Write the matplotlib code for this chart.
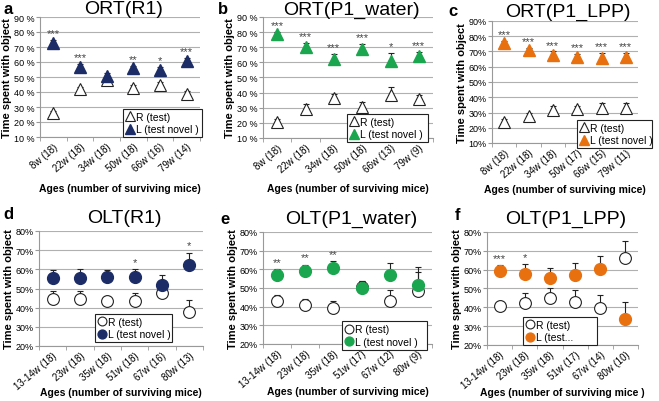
"""
ORT / OLT object-preference panels (a-f)
"""

import numpy as np
import matplotlib.pyplot as plt

plt.rcParams['font.family'] = ['Liberation Sans', 'DejaVu Sans']

W, H = 659, 402

#%% data (in %)

ort_r1_ages = ['8w (18)', '22w (18)', '34w (18)', '50w (18)', '66w (16)', '79w (14)']
ort_r1_R = [26, 42, 48, 43, 45, 39]
ort_r1_R_err = [1.5, 1.5, 1.5, 1.5, 1.5, 1.5]
ort_r1_L = [73, 57, 51, 56, 55, 61]
ort_r1_L_err = [1.5, 1.5, 1.5, 1.5, 1.5, 1.5]
ort_r1_stars = ['***', '***', '', '**', '*', '***']

ort_w_ages = ['8w (18)', '22w (18)', '34w (18)', '50w (18)', '66w (13)', '79w (9)']
ort_w_R = [20.5, 29.5, 36.5, 30.5, 38.5, 35.5]
ort_w_R_err = [2, 3, 2.5, 3, 5, 3]
ort_w_L = [78.5, 70, 62.5, 69, 61, 64]
ort_w_L_err = [1.5, 3, 3, 3, 5, 3]
ort_w_stars = ['***', '***', '***', '***', '*', '***']

ort_lpp_ages = ['8w (18)', '22w (18)', '34w (18)', '50w (17)', '66w (15)', '79w (11)']
ort_lpp_R = [24, 28, 31.5, 32, 33, 33]
ort_lpp_R_err = [1.5, 1.5, 2.5, 2.5, 3.5, 3]
ort_lpp_L = [75.5, 71, 67.5, 66.5, 66, 66.5]
ort_lpp_L_err = [1.5, 1.5, 2.5, 2, 3, 2.5]
ort_lpp_stars = ['***', '***', '***', '***', '***', '***']

olt_r1_ages = ['13-14w (18)', '23w (18)', '35w (18)', '51w (18)', '67w (16)', '80w (13)']
olt_r1_R = [44.7, 44.5, 43.7, 43.5, 47.8, 37.8]
olt_r1_R_err = [4, 4, 2.5, 4, 2, 6]
olt_r1_L = [55.3, 55.5, 56.2, 56, 52, 62.2]
olt_r1_L_err = [4.5, 4.5, 3.5, 4, 5, 6.5]
olt_r1_stars = ['', '', '', '*', '', '*']

olt_w_ages = ['13-14w (18)', '23w (18)', '35w (18)', '51w (17)', '67w (12)', '80w (9)']
olt_w_R = [43, 41, 39.5, 50.3, 42.8, 48.5]
olt_w_R_err = [3, 3, 3.5, 3.5, 6, 10]
olt_w_L = [57.2, 59, 60.7, 49.8, 57.2, 51.5]
olt_w_L_err = [3, 3.5, 3.5, 4, 6, 10]
olt_w_stars = ['**', '**', '**', '', '', '']

olt_lpp_ages = ['13-14w (18)', '23w (18)', '35w (18)', '51w (17)', '67w (14)', '80w (10)']
olt_lpp_R = [40.5, 42.5, 44.8, 42.8, 39.8, 66]
olt_lpp_R_err = [3, 5, 5.5, 6.5, 7, 9]
olt_lpp_L = [59.5, 57.8, 55.5, 57.3, 60.4, 34]
olt_lpp_L_err = [3, 5, 5.5, 6.5, 7, 9]
olt_lpp_stars = ['***', '*', '', '', '', '']

navy = '#1b2c66'
green = '#1aa64f'
orange = '#e8700f'

#%% panel helper

def panel(rect, title, title_y, xlab_y, ages, R, Rerr, L, Lerr, stars, col, kind,
          ylim, yfmt, leg_rect, leg_L='L (test novel )', xlab='Ages (number of surviving mice)'):
    x0, ytop, x1, ybot = rect
    ax = fig.add_axes([x0 / W, 1 - ybot / H, (x1 - x0) / W, (ybot - ytop) / H])
    x = np.arange(len(ages))
    m = '^' if kind == 'ort' else 'o'
    ms = 9 if kind == 'ort' else 8.5
    ax.errorbar(x, R, yerr=[np.zeros(len(R)), Rerr], fmt='none', ecolor='#222222',
                elinewidth=0.8, capsize=2.2, capthick=0.8, zorder=3)
    ax.errorbar(x, L, yerr=[np.zeros(len(L)), Lerr], fmt='none', ecolor='#222222',
                elinewidth=0.8, capsize=2.2, capthick=0.8, zorder=3)
    hR, = ax.plot(x, R, m, ms=ms, mfc='white', mec='#222222', mew=0.8, ls='none',
                  zorder=4, label='R (test)')
    hL, = ax.plot(x, L, m, ms=ms, mfc=col, mec=col, ls='none', zorder=5, label=leg_L)
    tops = np.maximum(np.array(L) + np.array(Lerr), np.array(R) + np.array(Rerr))
    for xi, s, top in zip(x, stars, tops):
        if s:
            ax.text(xi, top + 1.2, s, ha='center', va='bottom', fontsize=8, color='#444444')
    ax.set_xlim(-0.5, len(ages) - 0.5)
    ax.set_ylim(*ylim)
    yt = np.arange(ylim[0], ylim[1] + 1, 10)
    ax.set_yticks(yt)
    ax.set_yticklabels([yfmt.format(v) for v in yt], fontsize=6.5)
    ax.yaxis.grid(True, color='#b0b0b0', lw=0.8)
    ax.set_axisbelow(True)
    ax.set_xticks(x)
    ax.set_xticklabels(ages, rotation=40, ha='right', rotation_mode='anchor', fontsize=7)
    ax.set_xticks(np.arange(-0.5, len(ages), 1), minor=True)
    ax.tick_params(axis='x', which='major', length=0, pad=3)
    ax.tick_params(axis='x', which='minor', length=3, color='#999999', direction='out')
    ax.tick_params(axis='y', length=3, color='#999999', pad=1)
    for sp in ['top', 'right']:
        ax.spines[sp].set_visible(False)
    for sp in ['left', 'bottom']:
        ax.spines[sp].set_color('#999999')
    ax.set_ylabel('Time spent with object', fontsize=8, fontweight='bold', labelpad=1)
    ax.set_xlabel(xlab, fontsize=7.5, fontweight='bold')
    ax.xaxis.set_label_coords(0.5, -(xlab_y - ybot) / (ybot - ytop))
    lx0, ly0, lx1, ly1 = leg_rect
    leg = ax.legend(handles=[hR, hL], loc='center left', fontsize=7.5,
                    bbox_to_anchor=(lx0 / W, 1 - ly1 / H, (lx1 - lx0) / W, (ly1 - ly0) / H),
                    bbox_transform=fig.transFigure, mode='expand', frameon=True, fancybox=False,
                    handlelength=0.7, handletextpad=0.2, borderpad=0.3, labelspacing=0.25,
                    markerscale=0.75)
    leg.get_frame().set_edgecolor('#222222')
    leg.get_frame().set_linewidth(0.8)
    leg.get_frame().set_alpha(1)
    fig.text((x0 + x1) / 2 / W + 0.005, 1 - title_y / H, title,
             ha='center', va='center', fontsize=14)
    return ax


fig = plt.figure(figsize=(W / 100, H / 100), dpi=100)

panel((40, 18, 200, 138), 'ORT(R1)', 10, 184, ort_r1_ages, ort_r1_R, ort_r1_R_err,
      ort_r1_L, ort_r1_L_err, ort_r1_stars, navy, 'ort', (10, 90), '{:d} %', (118, 110, 207, 138))
panel((263, 18, 433, 139), 'ORT(P1_water)', 10, 184, ort_w_ages, ort_w_R, ort_w_R_err,
      ort_w_L, ort_w_L_err, ort_w_stars, green, 'ort', (10, 90), '{:d} %', (342, 115, 433, 143))
panel((492, 22, 638, 144), 'ORT(P1_LPP)', 12, 185, ort_lpp_ages, ort_lpp_R, ort_lpp_R_err,
      ort_lpp_L, ort_lpp_L_err, ort_lpp_stars, orange, 'ort', (10, 90), '{:d}%', (572, 118, 657, 152))
panel((39, 232, 203, 347), 'OLT(R1)', 219, 388, olt_r1_ages, olt_r1_R, olt_r1_R_err,
      olt_r1_L, olt_r1_L_err, olt_r1_stars, navy, 'olt', (20, 80), '{:d}%', (90, 315, 177, 343))
panel((263, 233, 432, 345), 'OLT(P1_water)', 219, 387, olt_w_ages, olt_w_R, olt_w_R_err,
      olt_w_L, olt_w_L_err, olt_w_stars, green, 'olt', (20, 80), '{:d}%', (337, 318, 432, 355))
panel((487, 233, 638, 346), 'OLT(P1_LPP)', 219, 388, olt_lpp_ages, olt_lpp_R, olt_lpp_R_err,
      olt_lpp_L, olt_lpp_L_err, olt_lpp_stars, orange, 'olt', (20, 80), '{:d}%', (518, 317, 602, 347),
      leg_L='L (test...', xlab='Ages (number of surviving mice )')

for lt, px, py in [('a', 3, 9), ('b', 218, 9), ('c', 448, 12), ('d', 3, 215), ('e', 220, 220), ('f', 455, 216)]:
    fig.text(px / W, 1 - py / H, lt, fontsize=12, fontweight='bold', va='center', ha='left')

plt.savefig('out.png', dpi=100)
